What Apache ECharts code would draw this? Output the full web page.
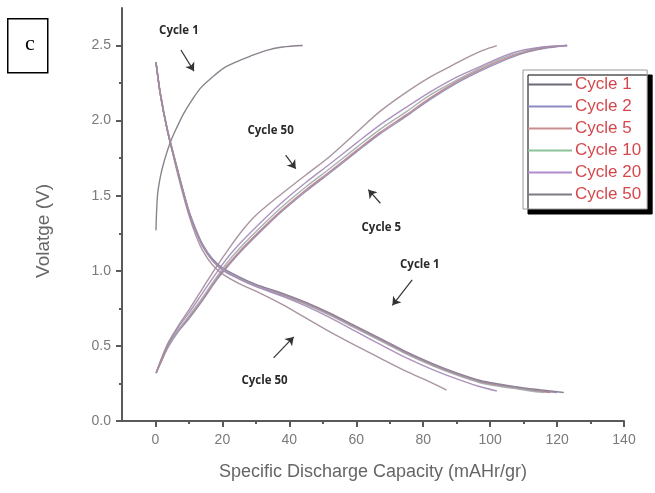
<!DOCTYPE html>
<html>
<head>
<meta charset="utf-8">
<script src="https://cdn.jsdelivr.net/npm/echarts@6/dist/echarts.min.js"></script>
<style>html,body{margin:0;padding:0;background:#fff}#c{width:655px;height:493px}</style>
</head>
<body>
<div id="c"></div>
<script>
// ---- tick labels ----
const xMajorTicks = [0, 20, 40, 60, 80, 100, 120, 140];
const xMinorTicks = [10, 30, 50, 70, 90, 110, 130];
const yMajorTicks = [0, 0.5, 1.0, 1.5, 2.0, 2.5];
const yMinorTicks = [0.25, 0.75, 1.25, 1.75, 2.25];

const cycleNames = ['Cycle 1', 'Cycle 2', 'Cycle 5', 'Cycle 10', 'Cycle 20', 'Cycle 50'];

// ---- charge branches (rising) ----
const c1ChargeX = [0.15, 0.6, 1.5, 2.6, 4.5, 6.5, 8.5, 11, 13.6, 17, 20.4, 24, 28.4, 33.5, 38, 44];
const c1ChargeV = [1.27, 1.50, 1.63, 1.73, 1.86, 1.96, 2.05, 2.14, 2.22, 2.29, 2.35, 2.39, 2.43, 2.47, 2.49, 2.50];

const bundleChargeX = [0.2, 2, 4, 7, 10, 14, 18, 22, 26, 30, 37, 45, 52, 60, 67, 75, 82, 90, 97, 104, 110, 116, 123];
const c2ChargeV  = [0.32, 0.41, 0.50, 0.60, 0.68, 0.80, 0.93, 1.04, 1.14, 1.23, 1.38, 1.53, 1.65, 1.79, 1.91, 2.03, 2.14, 2.25, 2.33, 2.40, 2.45, 2.48, 2.50];
const c5ChargeV  = [0.32, 0.41, 0.51, 0.61, 0.69, 0.81, 0.94, 1.05, 1.15, 1.24, 1.39, 1.54, 1.66, 1.80, 1.92, 2.04, 2.15, 2.26, 2.34, 2.41, 2.455, 2.485, 2.50];
const c10ChargeV = [0.32, 0.42, 0.51, 0.61, 0.70, 0.82, 0.95, 1.07, 1.17, 1.26, 1.41, 1.56, 1.68, 1.82, 1.94, 2.06, 2.17, 2.27, 2.35, 2.42, 2.46, 2.49, 2.50];
const c20ChargeV = [0.32, 0.42, 0.52, 0.63, 0.72, 0.85, 0.98, 1.10, 1.20, 1.29, 1.44, 1.59, 1.71, 1.85, 1.97, 2.09, 2.19, 2.29, 2.36, 2.43, 2.47, 2.49, 2.50];

const c50ChargeX = [0.2, 2, 4, 7, 10, 14, 18, 22, 26, 30, 37, 45, 52, 60, 67, 75, 82, 88, 94, 98, 102];
const c50ChargeV = [0.32, 0.43, 0.53, 0.64, 0.74, 0.88, 1.02, 1.15, 1.27, 1.37, 1.50, 1.64, 1.76, 1.92, 2.06, 2.19, 2.29, 2.36, 2.43, 2.47, 2.50];

// ---- discharge branches (falling) ----
const c1DisX = [0.15, 1.5, 3.5, 5.5, 7.5, 10, 12, 14, 17, 20, 25, 30, 38, 45, 52, 60, 68, 75, 83, 90, 97, 103, 110, 116, 122];
const c1DisV = [2.39, 2.18, 1.95, 1.77, 1.60, 1.40, 1.28, 1.18, 1.08, 1.02, 0.96, 0.91, 0.85, 0.79, 0.72, 0.63, 0.54, 0.46, 0.38, 0.32, 0.27, 0.245, 0.22, 0.205, 0.19];
const c2DisX = [0.15, 1.5, 3.5, 5.5, 7.5, 10, 12, 14, 17, 20, 25, 30, 38, 45, 52, 60, 68, 75, 83, 90, 97, 103, 109, 115, 120];
const c2DisV = [2.39, 2.17, 1.94, 1.76, 1.59, 1.39, 1.27, 1.17, 1.075, 1.015, 0.955, 0.905, 0.845, 0.785, 0.715, 0.625, 0.535, 0.455, 0.375, 0.315, 0.265, 0.24, 0.22, 0.20, 0.19];
const c5DisX = [0.15, 1.5, 3.5, 5.5, 7.5, 10, 12, 14, 17, 20, 25, 30, 38, 45, 52, 60, 68, 75, 83, 90, 97, 103, 109, 114, 118];
const c5DisV = [2.39, 2.17, 1.94, 1.76, 1.59, 1.39, 1.27, 1.17, 1.07, 1.01, 0.95, 0.90, 0.84, 0.78, 0.71, 0.62, 0.53, 0.45, 0.37, 0.31, 0.26, 0.235, 0.215, 0.20, 0.19];
const c10DisX = [0.15, 1.5, 3.5, 5.5, 7.5, 10, 12, 14, 17, 20, 25, 30, 38, 45, 52, 60, 68, 75, 83, 90, 97, 103, 108, 112, 116];
const c10DisV = [2.39, 2.17, 1.94, 1.76, 1.59, 1.39, 1.27, 1.17, 1.07, 1.01, 0.95, 0.90, 0.835, 0.775, 0.705, 0.615, 0.525, 0.445, 0.365, 0.305, 0.255, 0.23, 0.215, 0.20, 0.19];
const c20DisX = [0.15, 1.5, 3.5, 5.5, 7.5, 10, 12, 14, 17, 20, 25, 30, 38, 45, 52, 60, 68, 75, 83, 90, 96, 102];
const c20DisV = [2.39, 2.17, 1.94, 1.76, 1.59, 1.39, 1.27, 1.17, 1.07, 1.005, 0.945, 0.895, 0.83, 0.765, 0.69, 0.595, 0.50, 0.42, 0.34, 0.28, 0.235, 0.20];
const c50DisX = [0.15, 1.5, 3.5, 5.5, 7.5, 10, 12, 14, 17, 20, 25, 30, 38, 45, 52, 60, 67, 75, 82, 87];
const c50DisV = [2.39, 2.17, 1.94, 1.75, 1.57, 1.37, 1.24, 1.14, 1.04, 0.98, 0.915, 0.865, 0.775, 0.685, 0.595, 0.50, 0.42, 0.33, 0.26, 0.205];

// ---- annotations (data coordinates) ----
const noteTexts = ['Cycle 1', 'Cycle 50', 'Cycle 5', 'Cycle 1', 'Cycle 50'];
const noteAt = [[7.0, 2.60], [34.4, 1.93], [67.5, 1.29], [79.0, 1.04], [32.6, 0.27]];
const arrowFrom = [[7.6, 2.47], [38.9, 1.77], [67.2, 1.45], [76.7, 0.94], [35.3, 0.42]];
const arrowTo = [[11.5, 2.33], [41.9, 1.68], [63.6, 1.54], [70.8, 0.77], [41.3, 0.56]];

const colors = {
  'Cycle 1': '#6e6a78',
  'Cycle 2': '#8c8cc0',
  'Cycle 5': '#c98e90',
  'Cycle 10': '#8cc49a',
  'Cycle 20': '#b08ccc',
  'Cycle 50': '#7c7a84'
};
const plotColors = {
  'Cycle 1': '#7e7482',
  'Cycle 2': '#8c88b0',
  'Cycle 5': '#b87c88',
  'Cycle 10': '#a0a8a8',
  'Cycle 20': '#a488b8',
  'Cycle 50': '#a08a98'
};

const zip = (xs, ys) => xs.map((x, i) => [x, ys[i]]);

const branches = [
  ['Cycle 1', c1ChargeX, c1ChargeV],
  ['Cycle 1', c1DisX, c1DisV],
  ['Cycle 2', bundleChargeX, c2ChargeV],
  ['Cycle 2', c2DisX, c2DisV],
  ['Cycle 5', bundleChargeX, c5ChargeV],
  ['Cycle 5', c5DisX, c5DisV],
  ['Cycle 10', bundleChargeX, c10ChargeV],
  ['Cycle 10', c10DisX, c10DisV],
  ['Cycle 20', bundleChargeX, c20ChargeV],
  ['Cycle 20', c20DisX, c20DisV],
  ['Cycle 50', c50ChargeX, c50ChargeV],
  ['Cycle 50', c50DisX, c50DisV]
];

const series = branches.map(([name, xs, ys]) => ({
  name, type: 'line', xAxisIndex: 0, yAxisIndex: 0,
  data: zip(xs, ys), smooth: 0.3, showSymbol: false, symbol: 'none',
  color: colors[name],
  lineStyle: { color: plotColors[name], width: 1.4, opacity: 0.9 },
  emphasis: { disabled: true }, animation: false
}));

series.push({
  name: 'notes', type: 'scatter', xAxisIndex: 0, yAxisIndex: 0, data: [],
  silent: true, animation: false,
  markLine: {
    silent: true, animation: false,
    symbol: ['none', 'arrow'], symbolSize: 8,
    lineStyle: { color: '#333', width: 1.2, type: 'solid' },
    itemStyle: { color: '#222' },
    label: { show: false },
    emphasis: { disabled: true },
    data: arrowFrom.map((f, i) => [{ coord: f }, { coord: arrowTo[i] }])
  },
  markPoint: {
    silent: true, animation: false,
    symbol: 'circle', symbolSize: 1, itemStyle: { color: 'rgba(0,0,0,0)' },
    label: { show: true, position: 'inside', formatter: p => p.name, color: '#2a2a2a',
      fontFamily: 'Open Sans', fontWeight: 'bold', fontSize: 11.5 },
    data: noteTexts.map((t, i) => ({ name: t, coord: noteAt[i] }))
  }
});

const axisColor = '#5a5a5a';
const labelStyle = { color: '#7a7a7a', fontSize: 14, fontFamily: 'Liberation Sans' };

const option = {
  backgroundColor: '#fff',
  animation: false,
  grid: { left: 122, right: 31, top: 8, bottom: 72 },
  xAxis: [
    { type: 'value', min: -10, max: 140, position: 'bottom',
      axisLine: { show: true, onZero: false, lineStyle: { color: axisColor, width: 2 } },
      axisTick: { show: true, customValues: xMajorTicks, length: 6, lineStyle: { color: axisColor, width: 2 } },
      axisLabel: { show: true, customValues: xMajorTicks, margin: 12, ...labelStyle },
      splitLine: { show: false } },
    { type: 'value', min: -10, max: 140, position: 'bottom', offset: 0,
      axisLine: { show: false, onZero: false },
      axisTick: { show: true, customValues: xMinorTicks, length: 3, lineStyle: { color: axisColor, width: 2 } },
      axisLabel: { show: false }, splitLine: { show: false } }
  ],
  yAxis: [
    { type: 'value', min: 0, max: 2.75, position: 'left',
      axisLine: { show: true, onZero: false, lineStyle: { color: axisColor, width: 2 } },
      axisTick: { show: true, customValues: yMajorTicks, length: 6, lineStyle: { color: axisColor, width: 2 } },
      axisLabel: { show: true, customValues: yMajorTicks, margin: 11, formatter: v => v.toFixed(1), ...labelStyle },
      splitLine: { show: false } },
    { type: 'value', min: 0, max: 2.75, position: 'left', offset: 0,
      axisLine: { show: false, onZero: false },
      axisTick: { show: true, customValues: yMinorTicks, length: 3, lineStyle: { color: axisColor, width: 2 } },
      axisLabel: { show: false }, splitLine: { show: false } }
  ],
  legend: {
    data: cycleNames, orient: 'vertical', left: 523, top: 70,
    width: 125, padding: [6, 6, 6, 5], itemGap: 5, itemWidth: 44, itemHeight: 2,
    icon: 'rect',
    backgroundColor: '#fff', borderColor: '#9a9a9a', borderWidth: 1, borderRadius: 0,
    shadowColor: '#000', shadowBlur: 0, shadowOffsetX: 5, shadowOffsetY: 5,
    textStyle: { color: '#d4484c', fontSize: 17, fontFamily: 'Liberation Sans', padding: [0, 0, 0, -2] },
    selectedMode: false
  },
  graphic: [
    { type: 'rect', left: 7, top: 18, shape: { width: 40, height: 54 },
      style: { fill: '#fff', stroke: '#000', lineWidth: 1.5 } },
    { type: 'text', left: 25, top: 33, style: { text: 'c', fill: '#000', font: '22px "Liberation Serif"' } },
    { type: 'text', x: 44, y: 231, rotation: Math.PI / 2, style: { text: 'Volatge (V)', fill: '#666',
        font: '19px "Liberation Sans"', align: 'center', verticalAlign: 'middle' } },
    { type: 'text', x: 373, y: 472, style: { text: 'Specific Discharge Capacity (mAHr/gr)', fill: '#666',
        font: '18px "Liberation Sans"', align: 'center', verticalAlign: 'middle' } }
  ],
  series
};

const chart = echarts.init(document.getElementById('c'), null, { renderer: 'canvas' });
chart.setOption(option);
</script>
</body>
</html>
